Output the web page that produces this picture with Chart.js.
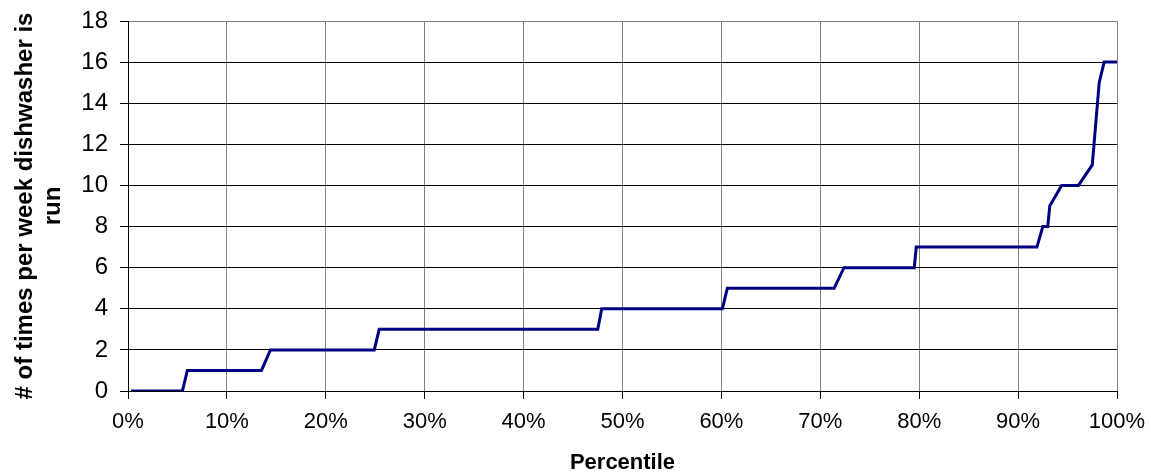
<!DOCTYPE html>
<html>
<head>
<meta charset="utf-8">
<script src="https://cdn.jsdelivr.net/npm/chart.js@4/dist/chart.umd.min.js"></script>
<style>
  html, body { margin: 0; padding: 0; background: #fff; }
  #wrap { width: 1151px; height: 476px; }
</style>
</head>
<body>
<div id="wrap"><canvas id="line"></canvas></div>
<script>
// percentile (%) vs. runs per week
var percentile = [0.3, 5.5, 6.0, 13.5, 14.4, 24.9, 25.4, 47.5, 47.9, 60.1, 60.6, 71.4, 72.4,
                  79.5, 79.7, 91.9, 92.5, 93.0, 93.2, 94.4, 96.1, 97.5, 98.2, 98.7, 100];
var timesRun   = [0, 0, 1, 1, 2, 2, 3, 3, 4, 4, 5, 5, 6,
                  6, 7, 7, 8, 8, 9, 10, 10, 11, 15, 16, 16];
var xTicks = [0, 10, 20, 30, 40, 50, 60, 70, 80, 90, 100];
var yTicks = [0, 2, 4, 6, 8, 10, 12, 14, 16, 18];

var points = percentile.map(function (p, i) { return { x: p, y: timesRun[i] }; });

var ctx = document.getElementById('line').getContext('2d');
var myChart = new Chart(ctx, {
    type: 'line',
    data: {
        datasets: [{
            label: 'Dishwasher runs',
            data: points,
            borderColor: '#000080',
            borderWidth: 3,
            pointRadius: 0,
            tension: 0,
            fill: false
        }]
    },
    options: {
        responsive: true,
        maintainAspectRatio: false,
        animation: false,
        layout: {
            padding: { top: 21, right: 34, left: 0, bottom: 0 }
        },
        plugins: {
            legend: { display: false },
            tooltip: { enabled: false }
        },
        scales: {
            x: {
                type: 'linear',
                min: 0,
                max: 100,
                afterBuildTicks: function (scale) {
                    scale.ticks = xTicks.map(function (v) { return { value: v }; });
                },
                afterFit: function (scale) {
                    scale.height = 85;
                    scale.paddingLeft = 0;
                    scale.paddingRight = 0;
                },
                ticks: {
                    color: '#000',
                    padding: 10,
                    maxRotation: 0,
                    font: { family: 'Liberation Sans', size: 22 },
                    callback: function (v) { return v + '%'; }
                },
                grid: {
                    color: '#808080',
                    tickColor: '#000',
                    tickLength: 8,
                    lineWidth: 1
                },
                border: { color: '#000', width: 1 },
                title: {
                    display: true,
                    text: 'Percentile',
                    color: '#000',
                    padding: { top: 0, bottom: 0 },
                    font: { family: 'Liberation Sans', size: 22, weight: 'bold' }
                }
            },
            y: {
                min: 0,
                max: 18,
                afterBuildTicks: function (scale) {
                    scale.ticks = yTicks.map(function (v) { return { value: v }; });
                },
                afterFit: function (scale) {
                    scale.width = 128;
                    scale.paddingTop = 0;
                    scale.paddingBottom = 0;
                },
                ticks: {
                    color: '#000',
                    padding: 12,
                    font: { family: 'Liberation Sans', size: 24 }
                },
                grid: {
                    color: function (c) { return c.tick && c.tick.value === 18 ? '#808080' : '#000'; },
                    tickColor: '#000',
                    tickLength: 8,
                    lineWidth: 1
                },
                border: { color: '#000', width: 1 },
                title: {
                    display: true,
                    text: ['# of times per week dishwasher is', 'run'],
                    color: '#000',
                    padding: { top: 12, bottom: 0 },
                    font: { family: 'Liberation Sans', size: 24, weight: 'bold', lineHeight: 1.15 }
                }
            }
        }
    }
});
</script>
</body>
</html>
